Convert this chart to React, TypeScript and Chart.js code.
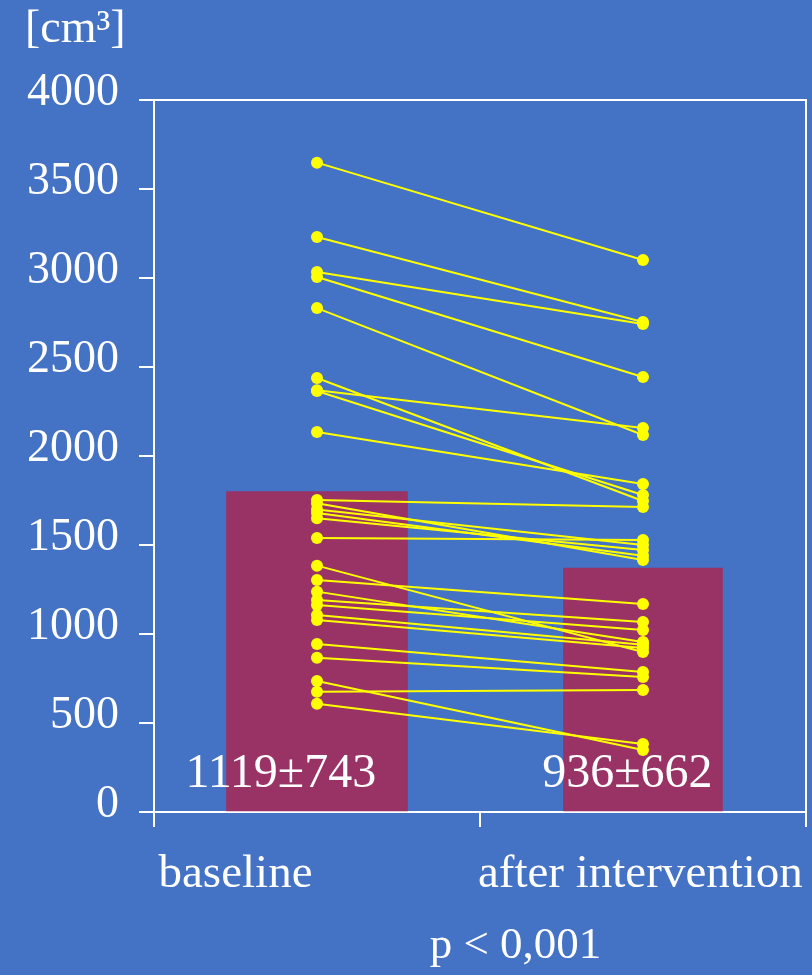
import React, { useEffect, useRef } from 'react';
import { Chart, registerables } from 'chart.js';

Chart.register(...registerables);

// ---- data ----
const categories = ['baseline', 'after intervention'];
const categoryX = [0.5, 1.5];
const categoryLabelX = [0.25, 1.492];
const barValues = [1800, 1370];
const barLabels = ['1119±743', '936±662'];
const barLabelX = [0.389, 1.452];
const baselineValues = [3648, 3230, 3034, 3006, 2831, 2438, 2370, 2365, 2135, 1753, 1735, 1700, 1680, 1650, 1539, 1384, 1303, 1238, 1191, 1163, 1107, 1079, 944, 867, 736, 676, 608];
const afterValues = [3101, 2753, 2742, 2444, 2118, 1747, 2157, 1781, 1843, 1714, 1416, 1500, 1440, 1472, 1528, 899, 1169, 955, 1067, 1022, 940, 921, 787, 759, 348, 685, 382];
const yTicks = [0, 500, 1000, 1500, 2000, 2500, 3000, 3500, 4000];
const unitLabel = '[cm³]';
const pLabel = 'p < 0,001';
const pLabelX = 1.109;

// ---- style ----
const BG = '#4472C4';
const BAR = '#993366';
const YELLOW = '#FFFF00';
const FONT = "'Liberation Serif', 'Times New Roman', serif";

const decor = {
  id: 'decor',
  beforeDraw(chart: any) {
    const { ctx, width, height } = chart;
    ctx.save();
    ctx.fillStyle = BG;
    ctx.fillRect(0, 0, width, height);
    ctx.restore();
  },
  afterDraw(chart: any) {
    const { ctx, chartArea: ca, scales } = chart;
    const x = scales.x;
    const y = scales.y;
    ctx.save();
    ctx.strokeStyle = '#ffffff';
    ctx.lineWidth = 2;
    ctx.beginPath();
    ctx.moveTo(ca.left, ca.top);
    ctx.lineTo(ca.right, ca.top);
    ctx.lineTo(ca.right, ca.bottom);
    ctx.stroke();

    ctx.fillStyle = '#ffffff';
    ctx.textBaseline = 'alphabetic';
    // bar value labels
    ctx.font = `48px ${FONT}`;
    ctx.textAlign = 'center';
    barLabels.forEach((t, i) => {
      ctx.fillText(t, x.getPixelForValue(barLabelX[i]), y.getPixelForValue(140));
    });
    // category labels
    ctx.font = `47px ${FONT}`;
    categories.forEach((t, i) => {
      ctx.fillText(t, x.getPixelForValue(categoryLabelX[i]), ca.bottom + 75);
    });
    // p value
    ctx.font = `45px ${FONT}`;
    ctx.fillText(pLabel, x.getPixelForValue(pLabelX), ca.bottom + 146);
    // unit
    ctx.font = `46px ${FONT}`;
    ctx.textAlign = 'left';
    ctx.fillText(unitLabel, ca.left - 129, ca.top - 58);
    ctx.restore();
  },
};

export default function App() {
  const ref = useRef<HTMLCanvasElement | null>(null);

  useEffect(() => {
    if (!ref.current) return;
    const lineSets = baselineValues.map((b, i) => ({
      type: 'line' as const,
      data: [
        { x: categoryX[0], y: b },
        { x: categoryX[1], y: afterValues[i] },
      ],
      borderColor: YELLOW,
      borderWidth: 2,
      pointRadius: 6,
      pointBackgroundColor: YELLOW,
      pointBorderWidth: 0,
      pointHoverRadius: 6,
      order: 0,
    }));
    const barSets = [
      {
        type: 'bar' as const,
        data: [{ x: categoryX[0], y: barValues[0] }],
        backgroundColor: BAR,
        barThickness: 181,
        grouped: false,
        order: 2,
      },
      {
        type: 'bar' as const,
        data: [{ x: categoryX[1], y: barValues[1] }],
        backgroundColor: BAR,
        barThickness: 159,
        grouped: false,
        order: 2,
      },
    ];
    const chart = new Chart(ref.current, {
      type: 'bar',
      data: { datasets: [...lineSets, ...barSets] as any },
      plugins: [decor],
      options: {
        animation: false,
        responsive: false,
        maintainAspectRatio: false,
        layout: { padding: { left: 0, top: 100, right: 5, bottom: 148 } },
        plugins: { legend: { display: false }, tooltip: { enabled: false } },
        scales: {
          x: {
            type: 'linear',
            min: 0,
            max: 2,
            offset: false,
            z: 1,
            afterFit: (s: any) => { s.height = 15; },
            ticks: { stepSize: 1, display: false },
            grid: {
              offset: false,
              drawOnChartArea: false,
              drawTicks: true,
              tickLength: 15,
              color: '#ffffff',
              lineWidth: 2,
            },
            border: { color: '#ffffff', width: 2 },
          },
          y: {
            type: 'linear',
            min: 0,
            max: 4000,
            z: 1,
            afterFit: (s: any) => { s.width = 154; },
            afterBuildTicks: (s: any) => { s.ticks = yTicks.map((v) => ({ value: v })); },
            ticks: {
              color: '#ffffff',
              font: { family: FONT, size: 46 },
              padding: 20,
              labelOffset: -7,
              callback: (v: any) => String(v),
            },
            grid: {
              drawOnChartArea: false,
              drawTicks: true,
              tickLength: 15,
              color: '#ffffff',
              lineWidth: 2,
            },
            border: { color: '#ffffff', width: 2 },
          },
        },
      } as any,
    });
    return () => chart.destroy();
  }, []);

  return (
    <div style={{ position: 'absolute', left: 0, top: 0, width: 812, height: 975, background: BG }}>
      <canvas ref={ref} width={812} height={975} style={{ display: 'block' }} />
    </div>
  );
}
